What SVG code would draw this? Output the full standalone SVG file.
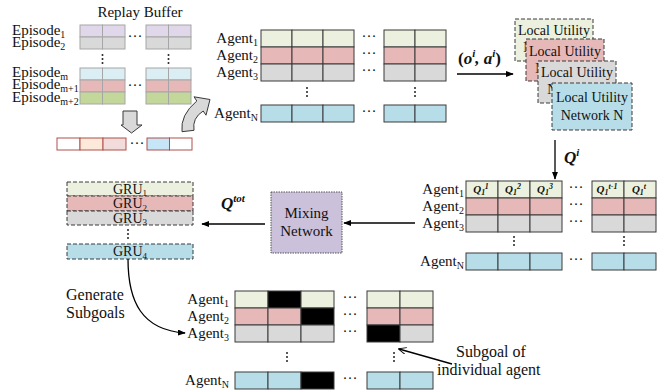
<svg xmlns="http://www.w3.org/2000/svg" width="667" height="391" viewBox="0 0 667 391">
  <style>
    text { font-family: "Liberation Serif", "Times New Roman", serif; fill: #111; }
    .lbl { font-size: 15px; }
    .lblR { font-size: 15px; text-anchor: end; }
    .mid { text-anchor: middle; }
    .note { font-size: 16px; }
    .util { font-size: 14px; text-anchor: middle; }
    .gru { font-size: 14px; text-anchor: middle; }
    .math { font-size: 17px; font-weight: bold; font-style: italic; }
    .q { font-size: 11px; font-weight: bold; font-style: italic; text-anchor: middle; }
    .rb rect { stroke: #a6a6a6; stroke-width: 1; }
    .grid rect { stroke: #3a3a3a; stroke-width: 1; }
    .strip rect { stroke: #b0504d; stroke-width: 1; }
    .dash { stroke: #3a3a3a; stroke-width: 1; stroke-dasharray: 4 2; }
    .g1 { fill: #ebf1de; }
    .g2 { fill: #e6b9b8; }
    .g3 { fill: #d9d9d9; }
    .g4 { fill: #b7dee8; }
    .pu { fill: #e0d8ea; }
    .lb { fill: #dbeef4; }
    .gr { fill: #c4d79b; }
    .blk { fill: #000; }
    .dot { fill: #222; }
    .conn { stroke: #000; stroke-width: 1.3; fill: none; }
    .block { fill: #d9d9d9; stroke: #3a3a3a; stroke-width: 1; }
  </style>
  <defs>
    <marker id="ah" viewBox="0 0 10 10" refX="9" refY="5" markerWidth="8" markerHeight="6" markerUnits="userSpaceOnUse" orient="auto" preserveAspectRatio="none">
      <path d="M0,0 L10,5 L0,10 Z" fill="#000"/>
    </marker>
    <marker id="open" viewBox="0 0 10 10" refX="9" refY="5" markerWidth="8" markerHeight="7" markerUnits="userSpaceOnUse" orient="auto" preserveAspectRatio="none">
      <path d="M0,0 L10,5 L0,10" fill="none" stroke="#000" stroke-width="1.3"/>
    </marker>
    <g id="vdots">
      <circle cx="0" cy="0" r="1" class="dot"/>
      <circle cx="0" cy="4" r="1" class="dot"/>
      <circle cx="0" cy="8" r="1" class="dot"/>
    </g>
  </defs>

  <!-- Replay buffer of episodes -->
  <g id="replay-buffer" class="rb">
    <text class="lbl mid" x="140" y="17">Replay Buffer</text>
    <text class="lbl" x="12" y="35">Episode<tspan font-size="10" dy="3">1</tspan></text>
    <text class="lbl" x="12" y="47">Episode<tspan font-size="10" dy="3">2</tspan></text>
    <text class="lbl" x="12" y="77">Episode<tspan font-size="10" dy="3">m</tspan></text>
    <text class="lbl" x="12" y="89">Episode<tspan font-size="10" dy="3">m+1</tspan></text>
    <text class="lbl" x="12" y="102">Episode<tspan font-size="10" dy="3">m+2</tspan></text>
    <rect class="pu" x="80" y="25" width="22.5" height="12"/>
    <rect class="pu" x="102.5" y="25" width="22.5" height="12"/>
    <rect class="pu" x="146" y="25" width="22.5" height="12"/>
    <rect class="pu" x="168.5" y="25" width="22.5" height="12"/>
    <rect class="g3" x="80" y="37" width="22.5" height="12"/>
    <rect class="g3" x="102.5" y="37" width="22.5" height="12"/>
    <rect class="g3" x="146" y="37" width="22.5" height="12"/>
    <rect class="g3" x="168.5" y="37" width="22.5" height="12"/>
    <rect class="lb" x="80" y="68" width="22.5" height="12"/>
    <rect class="lb" x="102.5" y="68" width="22.5" height="12"/>
    <rect class="lb" x="146" y="68" width="22.5" height="12"/>
    <rect class="lb" x="168.5" y="68" width="22.5" height="12"/>
    <rect class="g2" x="80" y="80" width="22.5" height="12"/>
    <rect class="g2" x="102.5" y="80" width="22.5" height="12"/>
    <rect class="g2" x="146" y="80" width="22.5" height="12"/>
    <rect class="g2" x="168.5" y="80" width="22.5" height="12"/>
    <rect class="gr" x="80" y="92" width="22.5" height="12"/>
    <rect class="gr" x="102.5" y="92" width="22.5" height="12"/>
    <rect class="gr" x="146" y="92" width="22.5" height="12"/>
    <rect class="gr" x="168.5" y="92" width="22.5" height="12"/>
    <text class="lbl mid" x="135" y="41">···</text>
    <text class="lbl mid" x="135" y="90">···</text>
    <use href="#vdots" x="102.5" y="55"/>
    <use href="#vdots" x="168.5" y="55"/>
  </g>

  <!-- Sampled sequence -->
  <g id="sample-strip" class="strip">
    <rect x="57" y="138" width="23" height="12" fill="#ffffff"/>
    <rect x="80" y="138" width="23" height="12" fill="#fde9d9"/>
    <rect x="103" y="138" width="23" height="12" fill="#f2dcdb"/>
    <rect x="147" y="138" width="22.5" height="12" fill="#c6e6f8"/>
    <rect x="169.5" y="138" width="22.5" height="12" fill="#ffffff"/>
    <text class="lbl mid" x="137" y="148">···</text>
  </g>

  <!-- Per-agent observation batch -->
  <g id="agent-batch" class="grid">
    <text class="lblR" x="258" y="43">Agent<tspan font-size="10" dy="3">1</tspan></text>
    <text class="lblR" x="258" y="60">Agent<tspan font-size="10" dy="3">2</tspan></text>
    <text class="lblR" x="258" y="77">Agent<tspan font-size="10" dy="3">3</tspan></text>
    <text class="lblR" x="258" y="118">Agent<tspan font-size="10" dy="3">N</tspan></text>
    <rect class="g1" x="261" y="30" width="31" height="17"/>
    <rect class="g1" x="292" y="30" width="31" height="17"/>
    <rect class="g1" x="323" y="30" width="31" height="17"/>
    <rect class="g1" x="384" y="30" width="31" height="17"/>
    <rect class="g1" x="415" y="30" width="31" height="17"/>
    <rect class="g2" x="261" y="47" width="31" height="17"/>
    <rect class="g2" x="292" y="47" width="31" height="17"/>
    <rect class="g2" x="323" y="47" width="31" height="17"/>
    <rect class="g2" x="384" y="47" width="31" height="17"/>
    <rect class="g2" x="415" y="47" width="31" height="17"/>
    <rect class="g3" x="261" y="64" width="31" height="17"/>
    <rect class="g3" x="292" y="64" width="31" height="17"/>
    <rect class="g3" x="323" y="64" width="31" height="17"/>
    <rect class="g3" x="384" y="64" width="31" height="17"/>
    <rect class="g3" x="415" y="64" width="31" height="17"/>
    <rect class="g4" x="261" y="105" width="31" height="17"/>
    <rect class="g4" x="292" y="105" width="31" height="17"/>
    <rect class="g4" x="323" y="105" width="31" height="17"/>
    <rect class="g4" x="384" y="105" width="31" height="17"/>
    <rect class="g4" x="415" y="105" width="31" height="17"/>
    <text class="lbl mid" x="369" y="41">···</text>
    <text class="lbl mid" x="369" y="58">···</text>
    <text class="lbl mid" x="369" y="75">···</text>
    <text class="lbl mid" x="369" y="116">···</text>
    <use href="#vdots" x="307" y="88"/>
    <use href="#vdots" x="415" y="88"/>
  </g>

  <!-- Local utility networks (stacked cards, each partly covering the one behind) -->
  <g id="utility-1">
    <rect class="g1 dash" x="515" y="19" width="78" height="42"/>
    <text class="util" x="554" y="35">Local Utility</text>
    <text class="util" x="553" y="52">Network 1</text>
  </g>
  <g id="utility-2">
    <rect class="g2 dash" x="526" y="39" width="78" height="42"/>
    <text class="util" x="565" y="56">Local Utility</text>
    <text class="util" x="565" y="73">Network 2</text>
  </g>
  <g id="utility-3">
    <rect class="g3 dash" x="538" y="61" width="78" height="42"/>
    <text class="util" x="577" y="77">Local Utility</text>
    <text class="util" x="577" y="94">Network 3</text>
  </g>
  <g id="utility-n">
    <rect class="g4 dash" x="552" y="83" width="80" height="47"/>
    <text class="util" x="592" y="102">Local Utility</text>
    <text class="util" x="592" y="120">Network N</text>
  </g>

  <!-- Individual Q-values per agent and step -->
  <g id="q-grid" class="grid">
    <text class="lblR" x="464" y="194">Agent<tspan font-size="10" dy="3">1</tspan></text>
    <text class="lblR" x="464" y="211">Agent<tspan font-size="10" dy="3">2</tspan></text>
    <text class="lblR" x="464" y="228">Agent<tspan font-size="10" dy="3">3</tspan></text>
    <text class="lblR" x="464" y="266">Agent<tspan font-size="10" dy="3">N</tspan></text>
    <rect class="g1" x="466" y="181" width="32" height="17"/>
    <rect class="g1" x="498" y="181" width="32" height="17"/>
    <rect class="g1" x="530" y="181" width="32" height="17"/>
    <rect class="g1" x="592" y="181" width="32" height="17"/>
    <rect class="g1" x="624" y="181" width="32" height="17"/>
    <rect class="g2" x="466" y="198" width="32" height="17"/>
    <rect class="g2" x="498" y="198" width="32" height="17"/>
    <rect class="g2" x="530" y="198" width="32" height="17"/>
    <rect class="g2" x="592" y="198" width="32" height="17"/>
    <rect class="g2" x="624" y="198" width="32" height="17"/>
    <rect class="g3" x="466" y="215" width="32" height="17"/>
    <rect class="g3" x="498" y="215" width="32" height="17"/>
    <rect class="g3" x="530" y="215" width="32" height="17"/>
    <rect class="g3" x="592" y="215" width="32" height="17"/>
    <rect class="g3" x="624" y="215" width="32" height="17"/>
    <rect class="g4" x="466" y="253" width="32" height="17"/>
    <rect class="g4" x="498" y="253" width="32" height="17"/>
    <rect class="g4" x="530" y="253" width="32" height="17"/>
    <rect class="g4" x="592" y="253" width="32" height="17"/>
    <rect class="g4" x="624" y="253" width="32" height="17"/>
    <text class="q" x="481" y="193">Q<tspan font-size="8" dy="2">1</tspan><tspan font-size="8" dy="-6">1</tspan></text>
    <text class="q" x="513" y="193">Q<tspan font-size="8" dy="2">1</tspan><tspan font-size="8" dy="-6">2</tspan></text>
    <text class="q" x="545" y="193">Q<tspan font-size="8" dy="2">1</tspan><tspan font-size="8" dy="-6">3</tspan></text>
    <text class="q" x="607" y="193">Q<tspan font-size="8" dy="2">1</tspan><tspan font-size="8" dy="-6">t-1</tspan></text>
    <text class="q" x="639" y="193">Q<tspan font-size="8" dy="2">1</tspan><tspan font-size="8" dy="-6">t</tspan></text>
    <text class="lbl mid" x="576" y="192">···</text>
    <text class="lbl mid" x="576" y="209">···</text>
    <text class="lbl mid" x="576" y="226">···</text>
    <text class="lbl mid" x="576" y="264">···</text>
    <use href="#vdots" x="514" y="237"/>
    <use href="#vdots" x="624" y="237"/>
  </g>

  <!-- Mixing network -->
  <g id="mixing-network">
    <rect x="271" y="192" width="71" height="61" fill="#ccc1da" stroke="#555" stroke-width="1" stroke-dasharray="1.5 1"/>
    <text class="lbl mid" x="306.5" y="218">Mixing</text>
    <text class="lbl mid" x="306.5" y="236">Network</text>
  </g>

  <!-- GRU stack -->
  <g id="gru-stack">
    <rect class="g1 dash" x="67" y="182" width="126" height="14"/>
    <rect class="g2 dash" x="67" y="196" width="126" height="15"/>
    <rect class="g3 dash" x="67" y="211" width="126" height="14"/>
    <rect class="g4 dash" x="67" y="244" width="126" height="15"/>
    <text class="gru" x="130" y="193.5">GRU<tspan font-size="9" dy="2.5">1</tspan></text>
    <text class="gru" x="130" y="208">GRU<tspan font-size="9" dy="2.5">2</tspan></text>
    <text class="gru" x="130" y="222.5">GRU<tspan font-size="9" dy="2.5">3</tspan></text>
    <text class="gru" x="130" y="256">GRU<tspan font-size="9" dy="2.5">4</tspan></text>
    <use href="#vdots" x="128" y="230"/>
  </g>

  <!-- Subgoal assignment grid -->
  <g id="subgoal-grid" class="grid">
    <text class="lblR" x="229" y="304">Agent<tspan font-size="10" dy="3">1</tspan></text>
    <text class="lblR" x="229" y="321">Agent<tspan font-size="10" dy="3">2</tspan></text>
    <text class="lblR" x="229" y="338">Agent<tspan font-size="10" dy="3">3</tspan></text>
    <text class="lblR" x="229" y="385">Agent<tspan font-size="10" dy="3">N</tspan></text>
    <rect class="g1" x="235" y="291" width="33" height="17"/>
    <rect class="blk" x="268" y="291" width="33" height="17"/>
    <rect class="g1" x="301" y="291" width="33" height="17"/>
    <rect class="g1" x="367" y="291" width="33" height="17"/>
    <rect class="g1" x="400" y="291" width="33" height="17"/>
    <rect class="g2" x="235" y="308" width="33" height="17"/>
    <rect class="g2" x="268" y="308" width="33" height="17"/>
    <rect class="blk" x="301" y="308" width="33" height="17"/>
    <rect class="g2" x="367" y="308" width="33" height="17"/>
    <rect class="g2" x="400" y="308" width="33" height="17"/>
    <rect class="g3" x="235" y="325" width="33" height="17"/>
    <rect class="g3" x="268" y="325" width="33" height="17"/>
    <rect class="g3" x="301" y="325" width="33" height="17"/>
    <rect class="blk" x="367" y="325" width="33" height="17"/>
    <rect class="g3" x="400" y="325" width="33" height="17"/>
    <rect class="g4" x="235" y="372" width="33" height="17"/>
    <rect class="g4" x="268" y="372" width="33" height="17"/>
    <rect class="blk" x="301" y="372" width="33" height="17"/>
    <rect class="g4" x="367" y="372" width="33" height="17"/>
    <rect class="g4" x="400" y="372" width="33" height="17"/>
    <text class="lbl mid" x="350" y="302">···</text>
    <text class="lbl mid" x="350" y="319">···</text>
    <text class="lbl mid" x="350" y="336">···</text>
    <text class="lbl mid" x="350" y="383">···</text>
    <use href="#vdots" x="287" y="353"/>
    <use href="#vdots" x="394" y="353"/>
  </g>

  <!-- Free annotations -->
  <g id="annotations">
    <text class="note" x="66" y="300">Generate</text>
    <text class="note" x="66" y="318">Subgoals</text>
    <text class="note" x="456" y="357">Subgoal of</text>
    <text class="note" x="437" y="375">individual agent</text>
    <text class="math" x="458" y="64"><tspan font-style="normal">(</tspan>o<tspan font-size="11" dy="-7">i</tspan><tspan dy="7">,</tspan> a<tspan font-size="11" dy="-7">i</tspan><tspan font-style="normal" dy="7">)</tspan></text>
    <text class="math" x="564" y="163">Q<tspan font-size="11" dy="-7">i</tspan></text>
    <text class="math" x="221" y="209">Q<tspan font-size="11" dy="-7">tot</tspan></text>
  </g>

  <!-- Connectors -->
  <g id="connectors">
    <path class="block" d="M123,111 L137,111 L137,125 L142,125 L131.5,133 L121,125 L123,125 Z"/>
    <path class="block" d="M182,131.7 Q180,115 196.8,101 L194,96.8 L210,99.5 L206,115.2 L203.2,111 Q192,118 194,130.3 Z"/>
    <line class="conn" x1="457" y1="74" x2="513" y2="74" marker-end="url(#ah)"/>
    <line class="conn" x1="555" y1="140" x2="555" y2="179" marker-end="url(#ah)"/>
    <line class="conn" x1="415" y1="223" x2="344" y2="223" marker-end="url(#ah)"/>
    <line class="conn" x1="265" y1="224" x2="202" y2="224" marker-end="url(#ah)"/>
    <path class="conn" d="M128,259 C128,302 142,330 185,333" marker-end="url(#ah)"/>
    <line class="conn" x1="452" y1="364" x2="399" y2="349" stroke-width="1" marker-end="url(#open)"/>
  </g>
</svg>
